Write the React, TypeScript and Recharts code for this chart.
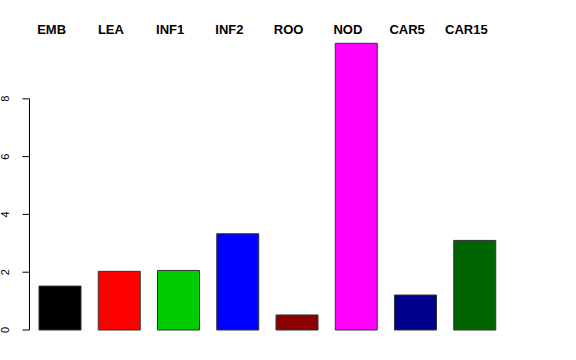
import { BarChart, Bar, XAxis, YAxis, Cell, ReferenceLine } from "recharts";

const tissues = ["EMB", "LEA", "INF1", "INF2", "ROO", "NOD", "CAR5", "CAR15"];
const values = [1.52, 2.03, 2.06, 3.33, 0.52, 9.92, 1.21, 3.1];
const colors = [
  "#000000",
  "#FF0000",
  "#00CD00",
  "#0000FF",
  "#8B0000",
  "#FF00FF",
  "#00008B",
  "#006400",
];
const yTicks = [0, 2, 4, 6, 8];

const data = tissues.map((t, i) => ({ tissue: t, value: values[i] }));

const FONT = "'Liberation Sans', Arial, Helvetica, sans-serif";
const AXIS_X = 29.5;

function TopLabel(props: any) {
  const { x, y, payload } = props;
  return (
    <text
      x={x - 8}
      y={y - 7}
      textAnchor="middle"
      fontFamily={FONT}
      fontWeight="bold"
      fontSize={13}
      fill="#000"
    >
      {payload.value}
    </text>
  );
}

function LeftTick(props: any) {
  const { y, payload } = props;
  return (
    <g>
      <line x1={AXIS_X - 7} y1={y} x2={AXIS_X} y2={y} stroke="#000" />
      <text
        x={9}
        y={y}
        transform={`rotate(-90, 9, ${y})`}
        textAnchor="middle"
        fontFamily={FONT}
        fontSize={11}
        fill="#000"
      >
        {payload.value}
      </text>
    </g>
  );
}

function AxisLine(props: any) {
  const { y1, y2 } = props;
  return <line x1={AXIS_X} y1={y1} x2={AXIS_X} y2={y2} stroke="#000" />;
}

export default function App() {
  return (
    <div style={{ position: "absolute", left: 0, top: 0, background: "#fff" }}>
      <BarChart
        width={576}
        height={360}
        data={data}
        margin={{ top: 11, right: 72, bottom: 30, left: 0 }}
      >
        <XAxis
          dataKey="tissue"
          orientation="top"
          height={30}
          axisLine={false}
          tickLine={false}
          tickSize={0}
          tickMargin={0}
          interval={0}
          tick={<TopLabel />}
        />
        <YAxis
          width={30}
          domain={[0, 10]}
          ticks={yTicks}
          axisLine={false}
          tickLine={false}
          tickSize={0}
          tickMargin={0}
          tick={<LeftTick />}
        />
        <ReferenceLine
          segment={[
            { x: tissues[0], y: 0 },
            { x: tissues[0], y: 8 },
          ]}
          ifOverflow="visible"
          shape={<AxisLine />}
        />
        <Bar
          dataKey="value"
          barSize={42}
          stroke="#333"
          strokeWidth={1}
          isAnimationActive={false}
        >
          {data.map((d, i) => (
            <Cell key={d.tissue} fill={colors[i]} />
          ))}
        </Bar>
      </BarChart>
    </div>
  );
}
